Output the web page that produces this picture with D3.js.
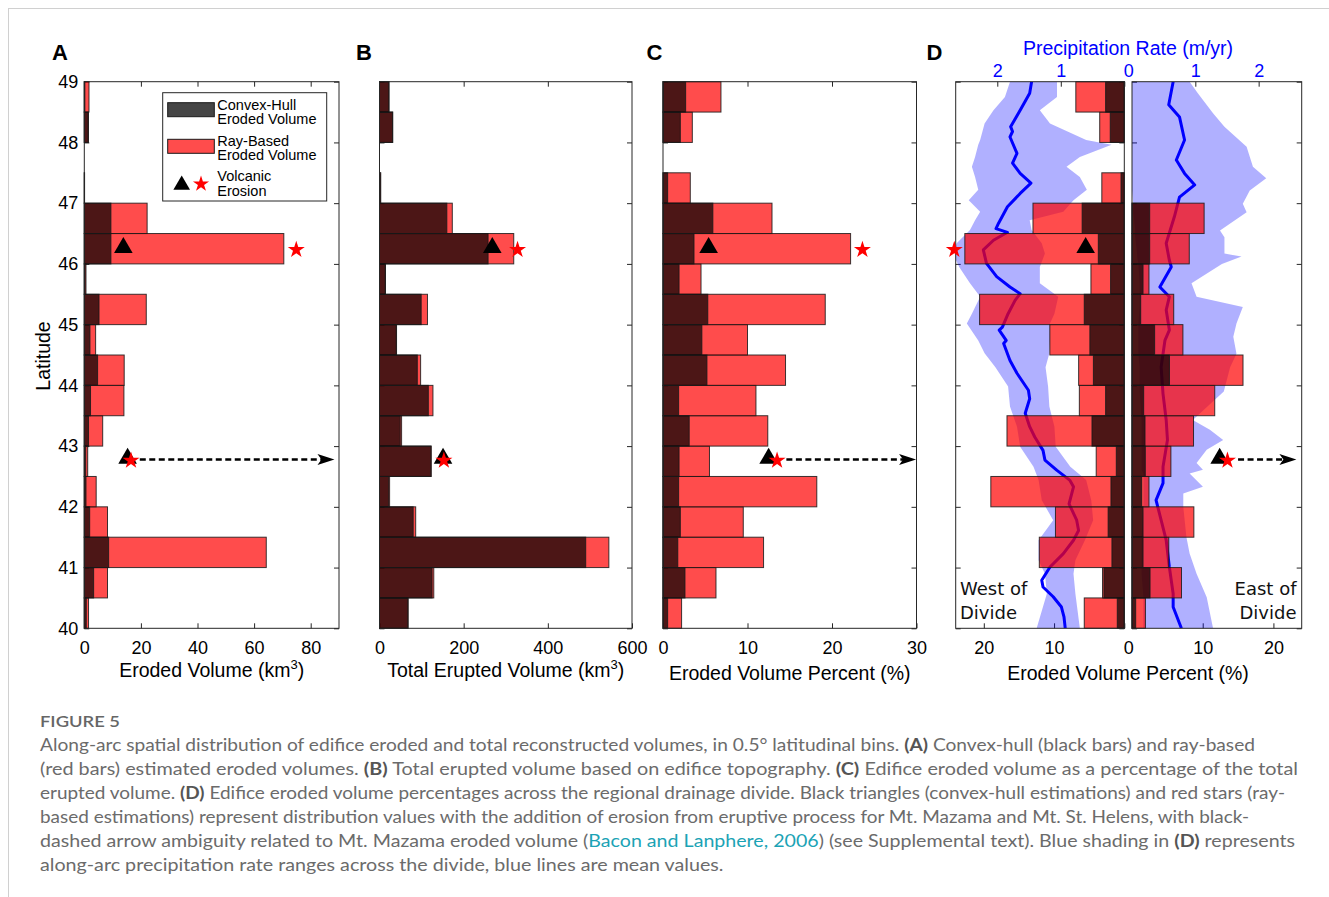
<!DOCTYPE html>
<html><head><meta charset="utf-8">
<script src="https://cdn.jsdelivr.net/npm/d3@7"></script>
<style>body{margin:0;background:#fff}svg{display:block}</style>
</head><body>
<svg id="c" width="1329" height="897"></svg>
<script>
// ---------------- DATA ----------------
// lower edge of each 0.5° latitude bin
const binLat = [40,40.5,41,41.5,42,42.5,43,43.5,44,44.5,45,45.5,46,46.5,47,47.5,48,48.5];
const latTicks = [40,41,42,43,44,45,46,47,48,49];

// (A) eroded volume, km3
const hullEroded = [0.7,3.3,8.6,1.9,0.6,0.5,1.5,2.2,4.7,2.0,5.2,0.3,9.4,9.4,0.02,0,1.4,0.2];
const rayEroded  = [1.5,8.2,64.3,8.2,4.2,1.2,6.5,14.0,14.1,4.0,21.9,0.6,70.5,22.2,0.1,0,1.45,1.66];
// (B) total erupted volume, km3
const hullErupted = [67.5,125,490,80,21.5,122,49.3,116,89.8,39.7,99,13.6,258,160,2,0,31,22.3];
const rayErupted  = [68,129,545,86,24,123,52.5,127,97.7,40.5,114,14.2,319,173,3,0,31.5,22.6];
// (C) eroded volume percent
const hullPct = [0.55,2.6,1.75,2.05,1.85,1.9,3.1,1.85,5.2,4.6,5.3,1.9,3.67,5.9,0.55,0,2.05,2.68];
const rayPct  = [2.2,6.27,11.9,9.5,18.2,5.5,12.4,11.0,14.5,10.0,19.2,4.5,22.2,12.9,3.23,0,3.47,6.86];
// (D) west / east of divide, percent
const westHullPct = [1.0,2.9,1.76,2.3,1.9,1.14,4.6,2.66,4.4,4.9,5.7,1.95,3.7,6.0,0.47,0,2.0,2.66];
const westRayPct  = [5.7,3.1,12.1,9.8,19.0,4.0,16.7,6.4,6.5,10.6,20.6,4.75,22.7,13.0,3.2,0,3.5,6.9];
const eastHullPct = [0.52,2.55,1.56,1.56,1.37,1.88,1.84,1.65,5.3,3.2,1.23,1.56,2.5,2.5,0,0,0,0];
const eastRayPct  = [1.9,7.0,5.2,8.75,2.4,5.5,8.7,11.7,15.7,7.2,5.9,2.4,8.1,10.2,0,0,0,0];

// volcanic erosion markers (Mt. St. Helens 46.25, Mt. Mazama 42.78)
const latA = [46.25, 42.78], triA = [13.8, 15.3], starA = [74.9, 16.5];
const latB = [46.25, 42.78], triB = [268, 151],   starB = [328, 153];
const latC = [46.25, 42.78], triC = [5.4, 12.5],  starC = [23.6, 13.5];
const latW = [46.25],        triW = [5.5],        starW = [24.2];
const latE = [42.78],        triE = [12.4],       starE = [13.5];
const arrowLat = 42.78;
const arrowA = [19.6, 88.4], arrowC = [14.6, 29.95], arrowE = [15.0, 23.25];

// precipitation rate (m/yr), west of divide
const westBandLat = [49,48.75,48.53,48.31,48.04,47.96,47.76,47.6,47.43,47.22,47.05,46.86,46.72,46.56,46.34,46.17,45.95,45.68,45.46,45.18,45.02,44.74,44.53,44.3,43.98,43.65,43.32,42.99,42.66,42.44,42.11,41.78,41.45,41.12,40.9,40.57,40];
const westBandMax = [1.80,1.88,2.06,2.20,2.27,2.30,2.35,2.40,2.35,2.30,2.45,2.27,2.35,2.43,2.64,2.70,2.60,2.43,2.27,2.40,2.48,2.30,2.20,2.03,1.83,1.80,1.69,1.64,1.43,1.35,1.30,1.12,1.35,1.35,1.25,1.22,1.38];
const westBandMin = [1.06,1.06,1.33,1.17,0.60,0.20,0.70,0.91,0.70,0.59,0.80,0.96,1.49,1.46,1.30,1.25,1.33,1.33,1.04,1.10,1.17,1.17,1.18,1.24,1.20,1.18,1.10,1.08,0.85,0.60,0.52,0.49,0.62,0.77,0.80,0.77,0.70];
const westMeanLat = [49,48.81,48.53,48.26,48.18,48.09,47.82,47.66,47.49,47.33,47.16,46.94,46.67,46.58,46.52,46.39,46.23,46.01,45.79,45.62,45.51,45.4,45.18,44.96,44.91,44.74,44.69,44.41,44.2,43.92,43.78,43.54,43.32,43.15,42.93,42.77,42.6,42.44,42.33,42.05,41.78,41.61,41.45,41.23,41.01,40.79,40.68,40.52,40.35,40.19,40];
const westMean    = [1.46,1.49,1.64,1.79,1.76,1.80,1.69,1.76,1.64,1.47,1.64,1.84,1.98,2.02,1.84,2.06,2.22,2.17,2.01,1.80,1.64,1.72,1.83,1.92,1.97,1.86,1.90,1.80,1.69,1.51,1.49,1.56,1.49,1.41,1.28,1.25,1.06,0.86,0.80,0.87,0.75,0.72,0.80,0.96,1.17,1.30,1.28,1.12,0.99,0.95,0.93];
// precipitation rate (m/yr), east of divide
const eastBandLat = [49,48.81,48.48,48.26,47.93,47.6,47.41,47.21,46.99,46.85,46.55,46.44,46.17,46.12,46,45.68,45.46,45.29,45.02,44.8,44.52,44.3,43.9,43.43,43.27,43.1,42.94,42.72,42.61,42.55,42.33,42.22,42,41.5,41.23,40.9,40.51,40];
const eastBandMax = [0.91,1.04,1.28,1.46,1.81,1.91,2.12,1.86,1.75,1.81,1.39,1.46,1.46,1.73,1.42,0.94,1.02,1.75,1.65,1.60,1.65,1.55,1.45,0.96,1.23,1.44,1.18,1.02,1.12,0.91,1.12,0.81,0.81,0.86,0.91,1.02,1.18,1.28];
const eastBandMin = [0,0,0,0,0,0,0,0,0.02,0.02,0.05,0.05,0.08,0.08,0.1,0.12,0.12,0.12,0.1,0.1,0.1,0.12,0.12,0.15,0.15,0.15,0.15,0.15,0.15,0.18,0.18,0.18,0.18,0.15,0.15,0.15,0.18,0.18];
const eastMeanLat = [49,48.62,48.42,48.04,47.71,47.49,47.3,47.1,46.78,46.34,46.06,45.95,45.62,45.46,45.24,44.91,44.74,44.3,43.86,43.43,43.1,42.66,42.39,42.11,41.78,41.45,41.01,40.57,40.35,40];
const eastMean    = [0.65,0.58,0.75,0.83,0.70,0.83,0.99,0.75,0.67,0.54,0.59,0.62,0.44,0.59,0.54,0.59,0.52,0.46,0.49,0.54,0.56,0.49,0.49,0.38,0.46,0.54,0.59,0.65,0.65,0.78];

const ticksA = [0,20,40,60,80], ticksB = [0,200,400,600], ticksC = [0,10,20,30], ticksD = [0,10,20];
const precipTicks = [0,1,2];

// ---------------- DRAWING ----------------
const FONT = '"Liberation Sans", Arial, Helvetica, sans-serif';
const AX = '#262626';
const svg = d3.select('#c');
const yTop = 81.7, yBot = 628.3;
const y = d3.scaleLinear().domain([40,49]).range([yBot, yTop]);

// page frame
svg.append('line').attr('x1',8).attr('x2',1329).attr('y1',8.5).attr('y2',8.5).attr('stroke','#d0d0d0');
svg.append('line').attr('x1',8.5).attr('x2',8.5).attr('y1',8).attr('y2',897).attr('stroke','#d0d0d0');

const xA = d3.scaleLinear().domain([0,90]).range([84.3,339]);
const xB = d3.scaleLinear().domain([0,600]).range([379.5,632]);
const xC = d3.scaleLinear().domain([0,30]).range([663,916.5]);
const xW = d3.scaleLinear().domain([24,0]).range([955.7,1124.3]);
const pW = d3.scaleLinear().domain([2.655,0]).range([955.7,1124.3]);
const xE = d3.scaleLinear().domain([0,24]).range([1132,1301.7]);
const pE = d3.scaleLinear().domain([0,2.68]).range([1132,1301.7]);

function styleAxis(g, size){
  g.attr('font-family',FONT).attr('font-size',size||18).attr('color',AX);
  g.select('.domain').remove();
}
function frameTicks(xs, opts){
  const g = svg.append('g');
  const b = g.append('g').attr('transform',`translate(0,${yBot})`)
    .call(d3.axisBottom(xs).tickValues(opts.bottom).tickSize(-5).tickPadding(13).tickFormat(d3.format('d')));
  styleAxis(b);
  b.selectAll('.tick text').attr('fill','#000');
  if (opts.bottomNoLabel) b.selectAll('.tick text').filter(d=>opts.bottomNoLabel.includes(d)).remove();
  if (opts.zeroShift) b.selectAll('.tick text').filter(d=>d===0).attr('x',opts.zeroShift);
  if (opts.topTicks){
    const t = g.append('g').attr('transform',`translate(0,${yTop})`)
      .call(d3.axisTop(xs).tickValues(opts.topTicks).tickSize(-5).tickFormat(''));
    styleAxis(t);
  }
  const l = g.append('g').attr('transform',`translate(${xs.range()[0]},0)`)
    .call(d3.axisLeft(y).tickValues(latTicks).tickSize(-5).tickPadding(6).tickFormat(opts.latLabels?d3.format('d'):''));
  styleAxis(l); l.selectAll('.tick text').attr('fill','#000');
  const r = g.append('g').attr('transform',`translate(${xs.range()[1]},0)`)
    .call(d3.axisRight(y).tickValues(latTicks).tickSize(-5).tickFormat(''));
  styleAxis(r);
}
function box(xs){
  const [a,b] = xs.range();
  svg.append('rect').attr('x',a).attr('y',yTop).attr('width',b-a).attr('height',yBot-yTop)
    .attr('fill','none').attr('stroke',AX).attr('stroke-width',1);
}
function bars(xs, vals, fill, op){
  const data = binLat.map((lat,i)=>({lat, v: vals[i]})).filter(d=>d.v>0);
  svg.append('g').selectAll('rect').data(data).join('rect')
    .attr('x',d=>Math.min(xs(0),xs(d.v))).attr('width',d=>Math.abs(xs(d.v)-xs(0)))
    .attr('y',d=>y(d.lat+0.5)).attr('height',d=>y(d.lat)-y(d.lat+0.5))
    .attr('fill',fill).attr('fill-opacity',op)
    .attr('stroke','#1a1a1a').attr('stroke-opacity',0.85).attr('stroke-width',1);
}
function markers(xs, lats, tri, star){
  tri.forEach((v,i)=>{
    svg.append('path').attr('d',d3.symbol(d3.symbolTriangle,150)())
      .attr('transform',`translate(${xs(v)},${y(lats[i])-1})`).attr('fill','#000');
  });
  star.forEach((v,i)=>{
    svg.append('path').attr('d',d3.symbol(d3.symbolStar,90)())
      .attr('transform',`translate(${xs(v)},${y(lats[i])+1})`).attr('fill','#ff0000');
  });
}
function arrow(xs, ends){
  const x0 = xs(ends[0]), x1 = xs(ends[1]), yy = y(arrowLat);
  svg.append('line').attr('x1',x0).attr('x2',x1-12).attr('y1',yy).attr('y2',yy)
    .attr('stroke','#000').attr('stroke-width',2.5).attr('stroke-dasharray','6,3.5');
  svg.append('path').attr('d',`M${x1},${yy} L${x1-17},${yy-5.5} L${x1-13},${yy} L${x1-17},${yy+5.5} Z`).attr('fill','#000');
}
function label(text, cx, by, sup){
  const t = svg.append('text').attr('x',cx).attr('y',by).attr('text-anchor','middle')
    .attr('font-family',FONT).attr('font-size',19.5).attr('fill','#000');
  t.append('tspan').text(text);
  if (sup){ t.append('tspan').attr('dy',-8).attr('font-size',13).text('3'); t.append('tspan').attr('dy',8).text(')'); }
}
function letter(t, x){
  svg.append('text').attr('x',x).attr('y',60).attr('font-family',FONT).attr('font-weight','bold')
    .attr('font-size',22).attr('fill','#000').text(t);
}

// ---- Panel A ----
frameTicks(xA,{bottom:ticksA, topTicks:[20,40,60,80], latLabels:true});
bars(xA, rayEroded, '#ff0000', 0.7);
bars(xA, hullEroded, '#000', 0.7);
box(xA);
markers(xA, latA, triA, starA);
arrow(xA, arrowA);
label('Eroded Volume (km', (84.3+339)/2, 677, true);
letter('A', 52);
svg.append('text').attr('transform','translate(50,356) rotate(-90)').attr('text-anchor','middle')
  .attr('font-family',FONT).attr('font-size',19.5).attr('fill','#000').text('Latitude');

// legend
const lg = svg.append('g');
lg.append('rect').attr('x',162.7).attr('y',92.7).attr('width',164).attr('height',108.3)
  .attr('fill','#fff').attr('stroke',AX).attr('stroke-width',1);
lg.append('rect').attr('x',167.7).attr('y',102.7).attr('width',46.6).attr('height',14)
  .attr('fill','#000').attr('fill-opacity',0.73).attr('stroke','#1a1a1a');
lg.append('rect').attr('x',167.7).attr('y',139.3).attr('width',46.6).attr('height',14)
  .attr('fill','#ff0000').attr('fill-opacity',0.7).attr('stroke','#1a1a1a');
lg.append('path').attr('d',d3.symbol(d3.symbolTriangle,120)()).attr('transform','translate(181.7,185)').attr('fill','#000');
lg.append('path').attr('d',d3.symbol(d3.symbolStar,80)()).attr('transform','translate(201,184)').attr('fill','#ff0000');
[['Convex-Hull',110],['Eroded Volume',123.5],['Ray-Based',146],['Eroded Volume',159.5],['Volcanic',181],['Erosion',195.5]]
  .forEach(([t,yy])=>lg.append('text').attr('x',217.3).attr('y',yy).attr('font-family',FONT).attr('font-size',14.5).attr('fill','#000').text(t));

// ---- Panel B ----
frameTicks(xB,{bottom:ticksB, topTicks:[200,400]});
bars(xB, rayErupted, '#ff0000', 0.7);
bars(xB, hullErupted, '#000', 0.7);
box(xB);
markers(xB, latB, triB, starB);
label('Total Erupted Volume (km', (379.5+632)/2, 677, true);
letter('B', 356);

// ---- Panel C ----
frameTicks(xC,{bottom:ticksC, topTicks:[10,20]});
bars(xC, rayPct, '#ff0000', 0.7);
bars(xC, hullPct, '#000', 0.7);
box(xC);
markers(xC, latC, triC, starC);
arrow(xC, arrowC);
label('Eroded Volume Percent (%)', (663+916.5)/2, 680);
letter('C', 646.5);

// ---- Panel D ----
letter('D', 926.5);
const defs = svg.append('defs');
defs.append('clipPath').attr('id','clipW').append('rect').attr('x',955.7).attr('y',yTop).attr('width',1124.3-955.7).attr('height',yBot-yTop);
defs.append('clipPath').attr('id','clipE').append('rect').attr('x',1132).attr('y',yTop).attr('width',1301.7-1132).attr('height',yBot-yTop);

frameTicks(xW,{bottom:ticksD, latLabels:false, zeroShift:4});
frameTicks(xE,{bottom:ticksD, bottomNoLabel:[0]});
// top precipitation axes
const tW = svg.append('g').attr('transform',`translate(0,${yTop})`)
  .call(d3.axisTop(pW).tickValues(precipTicks).tickSize(-5).tickPadding(5).tickFormat(d3.format('d')));
styleAxis(tW); tW.selectAll('.tick text').attr('fill','#0000ff');
tW.selectAll('.tick text').filter(d=>d===0).attr('x',4);
const tE = svg.append('g').attr('transform',`translate(0,${yTop})`)
  .call(d3.axisTop(pE).tickValues(precipTicks.filter(d=>d>0)).tickSize(-5).tickPadding(5).tickFormat(d3.format('d')));
styleAxis(tE); tE.selectAll('.tick text').attr('fill','#0000ff');

function precip(ps, clip, bLat, bMin, bMax, mLat, mVal){
  const g = svg.append('g').attr('clip-path',`url(#${clip})`);
  const band = bLat.map((lat,i)=>({lat, lo:bMin[i], hi:bMax[i]}));
  g.append('path').datum(band)
    .attr('d', d3.area().y(d=>y(d.lat)).x0(d=>ps(d.lo)).x1(d=>ps(d.hi)))
    .attr('fill','#0000ff').attr('fill-opacity',0.31);
  const mean = mLat.map((lat,i)=>({lat, v:mVal[i]}));
  g.append('path').datum(mean)
    .attr('d', d3.line().y(d=>y(d.lat)).x(d=>ps(d.v)))
    .attr('fill','none').attr('stroke','#0000ff').attr('stroke-width',3).attr('stroke-linejoin','round');
}
precip(pW,'clipW', westBandLat, westBandMin, westBandMax, westMeanLat, westMean);
precip(pE,'clipE', eastBandLat, eastBandMin, eastBandMax, eastMeanLat, eastMean);

bars(xW, westRayPct, '#ff0000', 0.7);
bars(xW, westHullPct, '#000', 0.7);
bars(xE, eastRayPct, '#ff0000', 0.7);
bars(xE, eastHullPct, '#000', 0.7);
box(xW); box(xE);
markers(xW, latW, triW, starW);
markers(xE, latE, triE, starE);
arrow(xE, arrowE);

svg.append('text').attr('x',1128).attr('y',55).attr('text-anchor','middle').attr('font-family',FONT)
  .attr('font-size',19.5).attr('fill','#0000ff').text('Precipitation Rate (m/yr)');
label('Eroded Volume Percent (%)', 1128, 680);

const DV = '"DejaVu Sans", sans-serif';
[['West of',595],['Divide',618.5]].forEach(([t,yy])=>svg.append('text').attr('x',960).attr('y',yy)
  .attr('font-family',DV).attr('font-size',18).attr('fill','#111').text(t));
[['East of',595],['Divide',618.5]].forEach(([t,yy])=>svg.append('text').attr('x',1296.5).attr('y',yy).attr('text-anchor','end')
  .attr('font-family',DV).attr('font-size',18).attr('fill','#111').text(t));

// ---------------- CAPTION ----------------
const CF = 'Lato, "Open Sans", sans-serif';
svg.append('text').attr('x',40).attr('y',727).attr('font-family',CF).attr('font-size',16)
  .attr('font-weight',600).attr('fill','#666').attr('textLength',80).attr('lengthAdjust','spacingAndGlyphs').text('FIGURE 5');
const capLines = [
  [['Along-arc spatial distribution of edifice eroded and total reconstructed volumes, in 0.5° latitudinal bins. '],['(A)','b'],[' Convex-hull (black bars) and ray-based']],
  [['(red bars) estimated eroded volumes. '],['(B)','b'],[' Total erupted volume based on edifice topography. '],['(C)','b'],[' Edifice eroded volume as a percentage of the total']],
  [['erupted volume. '],['(D)','b'],[' Edifice eroded volume percentages across the regional drainage divide. Black triangles (convex-hull estimations) and red stars (ray-']],
  [['based estimations) represent distribution values with the addition of erosion from eruptive process for Mt. Mazama and Mt. St. Helens, with black-']],
  [['dashed arrow ambiguity related to Mt. Mazama eroded volume ('],['Bacon and Lanphere, 2006','l'],[') (see Supplemental text). Blue shading in '],['(D)','b'],[' represents']],
  [['along-arc precipitation rate ranges across the divide, blue lines are mean values.']]
];
const capEnd = [1255, 1298, 1285, 1249, 1295, 723.5];
capLines.forEach((parts,i)=>{
  const t = svg.append('text').attr('x',40).attr('y',751+24*i).attr('font-family',CF).attr('font-size',16.5)
    .attr('fill','#6b6b6b').attr('textLength',capEnd[i]-40).attr('lengthAdjust','spacingAndGlyphs');
  parts.forEach(([s,k])=>{
    const sp = t.append('tspan').text(s);
    if (k==='b') sp.attr('font-weight','bold').attr('fill','#555');
    if (k==='l') sp.attr('fill','#1ba3b5');
  });
});
</script>
</body></html>
